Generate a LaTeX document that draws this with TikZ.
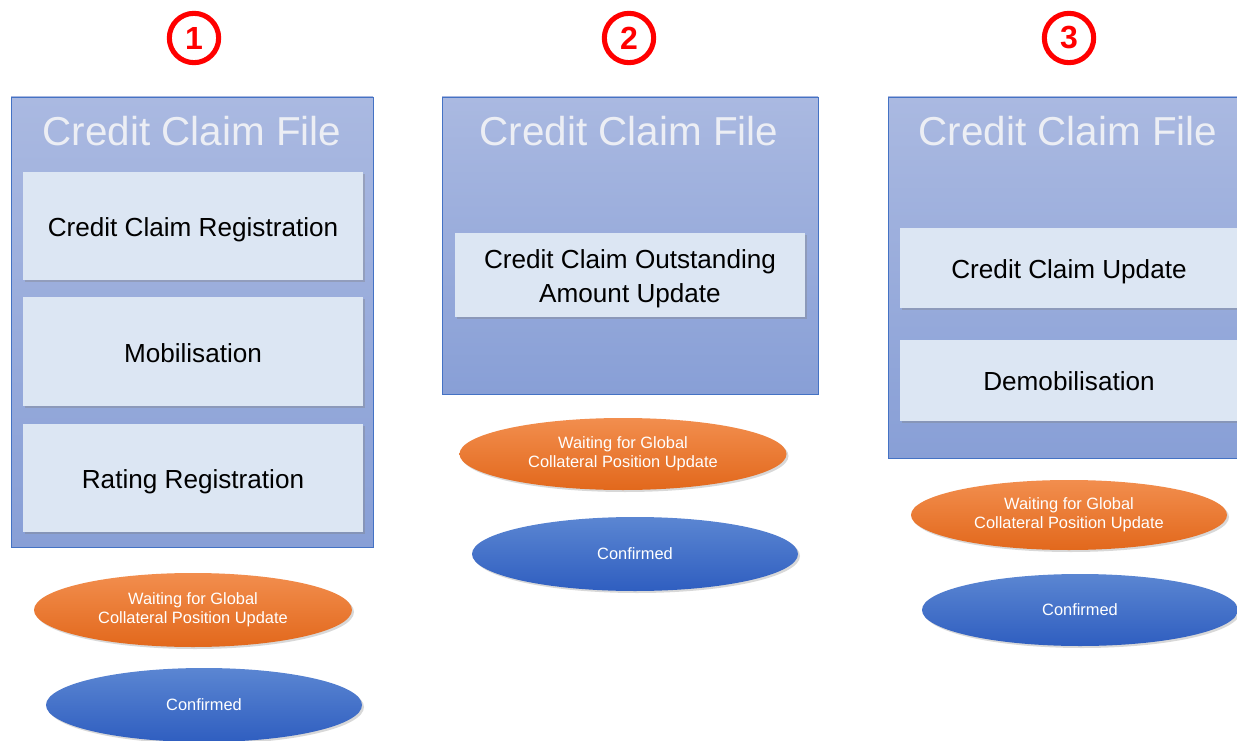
\documentclass[tikz,border=0pt]{standalone}
\usepackage{fontspec}
\setmainfont{Liberation Sans}
\usetikzlibrary{shapes.geometric,shadows,fit}
\definecolor{panelTop}{HTML}{AAB9E1}
\definecolor{panelBot}{HTML}{889FD6}
\definecolor{panelEdge}{HTML}{4472C4}
\definecolor{boxFill}{HTML}{DCE6F3}
\definecolor{orTop}{HTML}{F28E4E}
\definecolor{orBot}{HTML}{E2681C}
\definecolor{blTop}{HTML}{5B86D2}
\definecolor{blBot}{HTML}{2F5EC0}
\definecolor{titleCol}{HTML}{ECEEF4}
\definecolor{numRed}{HTML}{FF0000}
\tikzset{
  x=0.75pt, y=-0.75pt,
  panel/.style={draw=panelEdge, line width=0.6pt, top color=panelTop, bottom color=panelBot, inner sep=0pt},
  stepbox/.style={fill=boxFill, inner sep=0pt, drop shadow={shadow xshift=1.5pt, shadow yshift=-1.5pt, opacity=0.35}},
  boxtext/.style={font=\fontsize{19.6}{25.5}\selectfont, text=black, align=center, inner sep=0pt, text depth=0pt},
  title/.style={font=\fontsize{30.3}{34}\selectfont, text=titleCol, inner sep=0pt},
  numcircle/.style={circle, draw=numRed, line width=3.8pt, minimum size=37pt, inner sep=0pt, text=numRed, font=\fontsize{24}{26}\bfseries\selectfont},
  stateov/.style={ellipse, inner sep=0pt, text=white, align=center, font=\fontsize{12.3}{14.5}\selectfont, drop shadow={shadow xshift=1.5pt, shadow yshift=-1.5pt, opacity=0.3}},
  waiting/.style={stateov, top color=orTop, bottom color=orBot},
  confirmed/.style={stateov, top color=blTop, bottom color=blBot},
}
\begin{document}
\begin{tikzpicture}
\clip (0,0) rectangle (1237,741);
\fill[white] (0,0) rectangle (1237,741);

% numbers
\node[numcircle] (n1) at (194,38) {1};
\node[numcircle] (n2) at (629,38) {2};
\node[numcircle] (n3) at (1069,38) {3};

% panel 1
\node[panel, fit={(11,97) (373,547)}] (p1) {};
\node[title] (t1) at (192,131) {Credit Claim File};
\node[stepbox, fit={(23,172) (363,280)}] (b11) {};
\node[boxtext] (l11) at (193,227) {Credit Claim Registration};
\node[stepbox, fit={(23,297) (363,406)}] (b12) {};
\node[boxtext] (l12) at (193,353) {Mobilisation};
\node[stepbox, fit={(23,424) (363,532)}] (b13) {};
\node[boxtext] (l13) at (193,479) {Rating Registration};
\node[waiting, minimum width=318*0.75pt, minimum height=74*0.75pt] (w1) at (193,610) {Waiting for Global\\Collateral Position Update};
\node[confirmed, minimum width=316*0.75pt, minimum height=74*0.75pt] (c1) at (204,705) {Confirmed};

% panel 2
\node[panel, fit={(442,97) (818,394)}] (p2) {};
\node[title] (t2) at (629,131) {Credit Claim File};
\node[stepbox, fit={(455,233) (805,317)}] (b21) {};
\node[boxtext] (l21) at (630,276) {Credit Claim Outstanding\\Amount Update};
\node[waiting, minimum width=327*0.75pt, minimum height=72*0.75pt] (w2) at (623,454) {Waiting for Global\\Collateral Position Update};
\node[confirmed, minimum width=326*0.75pt, minimum height=74*0.75pt] (c2) at (635,554) {Confirmed};

% panel 3
\node[panel, fit={(888,97) (1250,458)}] (p3) {};
\node[title] (t3) at (1068,131) {Credit Claim File};
\node[stepbox, fit={(900,228) (1250,308)}] (b31) {};
\node[boxtext] (l31) at (1069,269) {Credit Claim Update};
\node[stepbox, fit={(900,340) (1250,421)}] (b32) {};
\node[boxtext] (l32) at (1069,381) {Demobilisation};
\node[waiting, minimum width=316*0.75pt, minimum height=70*0.75pt] (w3) at (1069,515) {Waiting for Global\\Collateral Position Update};
\node[confirmed, minimum width=316*0.75pt, minimum height=72*0.75pt] (c3) at (1080,610) {Confirmed};
\end{tikzpicture}
\end{document}
